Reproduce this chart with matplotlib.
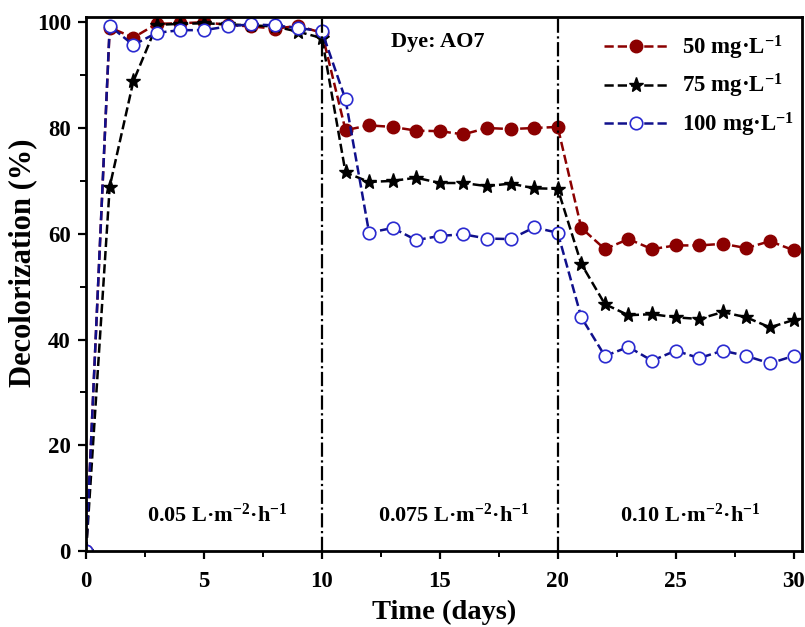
import numpy as np
import matplotlib
matplotlib.use('Agg')
import matplotlib.pyplot as plt
from matplotlib.ticker import MultipleLocator

plt.rcParams['font.family'] = ['Liberation Serif', 'DejaVu Serif']
plt.rcParams['font.weight'] = 'bold'
plt.rcParams['mathtext.fontset'] = 'custom'
plt.rcParams['mathtext.rm'] = 'Liberation Serif:bold'
plt.rcParams['mathtext.bf'] = 'Liberation Serif:bold'
plt.rcParams['mathtext.default'] = 'rm'

# 時間（日）
days = list(range(0, 31))

# 各濃度の脱色率 (%)
c50 = [0, 99, 97.1, 99.7, 99.8, 100, 99.5, 99.2, 98.8, 99.3, 98.0,
       79.6, 80.5, 80.2, 79.5, 79.4, 78.8, 80.0, 79.8, 80.0, 80.2,
       61.1, 57.1, 59.0, 57.1, 57.8, 57.8, 58.1, 57.3, 58.6, 56.9]
c75 = [0, 68.9, 88.8, 99.5, 99.7, 99.8, 99.6, 99.4, 99.2, 98.2, 97.0,
       71.6, 69.8, 70.0, 70.6, 69.6, 69.6, 69.0, 69.5, 68.6, 68.5,
       54.3, 46.7, 44.6, 44.8, 44.2, 43.9, 45.2, 44.2, 42.3, 43.7]
c100 = [0, 99.3, 95.7, 98.0, 98.5, 98.5, 99.2, 99.6, 99.4, 98.9, 98.3,
        85.4, 60.2, 61.1, 58.8, 59.6, 59.9, 59.1, 59.0, 61.2, 60.2,
        44.2, 36.9, 38.6, 36.0, 37.9, 36.5, 37.9, 36.9, 35.5, 36.9]

labels = [r'50 mg·L$^{-1}$', r'75 mg·L$^{-1}$', r'100 mg·L$^{-1}$']
phase_bounds = [10, 20]
phase_labels = [r'0.05 L·m$^{-2}$·h$^{-1}$', r'0.075 L·m$^{-2}$·h$^{-1}$',
                r'0.10 L·m$^{-2}$·h$^{-1}$']
phase_centers = [5.55, 15.6, 25.6]

fig = plt.figure(figsize=(8.05, 6.27), dpi=100)
ax = fig.add_axes([0.107, 0.121, 0.889, 0.852])

ax.plot(days, c50, '--o', color='#8b0000', lw=1.8, ms=9, label=labels[0])
ax.plot(days, c75, '--*', color='black', lw=1.8, ms=11, label=labels[1])
ax.plot(days, c100, '--o', color='#10108c', lw=1.8, ms=9, mfc='white',
        mec='#2a2ad0', mew=1.2, label=labels[2])

for b in phase_bounds:
    ax.axvline(b, color='black', ls='-.', lw=1.6)

for xc, t in zip(phase_centers, phase_labels):
    ax.text(xc, 6.8, t, ha='center', va='center', fontsize=16, fontweight='bold')

ax.text(14.9, 96.2, 'Dye: AO7', ha='center', va='center', fontsize=16, fontweight='bold')

ax.set_xlim(0, 30.35)
ax.set_ylim(0, 101)
ax.xaxis.set_major_locator(MultipleLocator(5))
ax.xaxis.set_minor_locator(MultipleLocator(2.5))
ax.yaxis.set_major_locator(MultipleLocator(20))
ax.yaxis.set_minor_locator(MultipleLocator(10))
ax.tick_params(which='major', direction='out', length=6, width=1.6, labelsize=16.5)
ax.tick_params(axis='x', which='major', pad=8)
ax.tick_params(axis='y', which='major', pad=5)
ax.tick_params(which='minor', direction='out', length=4, width=1.4)
for s in ax.spines.values():
    s.set_linewidth(2)

ax.set_xlabel('Time (days)', fontsize=20.5, fontweight='bold', labelpad=6)
ax.set_ylabel('Decolorization (%)', fontsize=22, fontweight='bold')
ax.yaxis.set_label_coords(-0.068, 0.54)

ax.legend(loc='upper right', bbox_to_anchor=(1.008, 0.995), frameon=False,
          handlelength=2.8, handletextpad=0.6, borderaxespad=0.2, labelspacing=0.45,
          prop={'weight': 'bold', 'size': 16.5})

fig.savefig('out.png', dpi=100)
